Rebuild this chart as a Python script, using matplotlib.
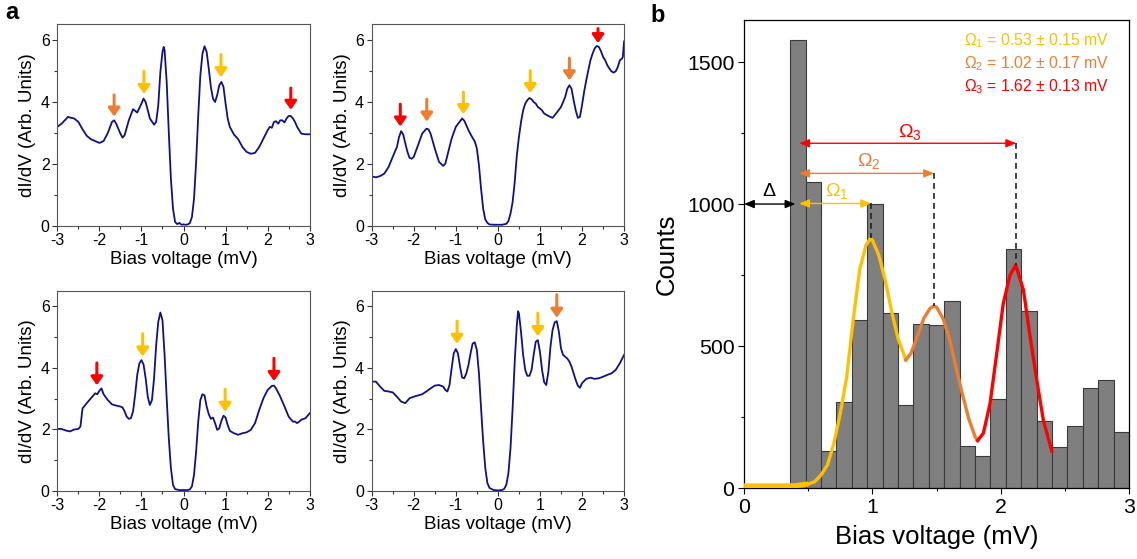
import matplotlib
matplotlib.use('Agg')
import matplotlib.pyplot as plt
from matplotlib.ticker import MultipleLocator

plt.rcParams['font.family'] = ['Liberation Sans', 'DejaVu Sans']
plt.rcParams['mathtext.fontset'] = 'custom'
plt.rcParams['mathtext.rm'] = 'Liberation Sans'
plt.rcParams['mathtext.it'] = 'Liberation Sans:italic'
plt.rcParams['mathtext.default'] = 'regular'

# ---- dI/dV spectra (bias in mV, conductance in arb. units) ----
bias_1 = [-3.0, -2.9, -2.8, -2.75, -2.7, -2.6, -2.5, -2.4, -2.3, -2.2, -2.1, -2.0, -1.9, -1.8,
          -1.7, -1.65, -1.6, -1.5, -1.45, -1.4, -1.3, -1.2, -1.1, -1.0, -0.95, -0.9, -0.8, -0.7,
          -0.65, -0.6, -0.55, -0.5, -0.47, -0.45, -0.4, -0.35, -0.3, -0.25, -0.2, -0.15, -0.1,
          -0.05, 0.0, 0.05, 0.1, 0.15, 0.2, 0.25, 0.3, 0.35, 0.4, 0.45, 0.5, 0.55, 0.6, 0.65, 0.7,
          0.75, 0.8, 0.85, 0.9, 0.95, 1.0, 1.05, 1.1, 1.2, 1.3, 1.4, 1.5, 1.6, 1.7, 1.8, 1.9, 2.0,
          2.05, 2.1, 2.15, 2.2, 2.25, 2.3, 2.35, 2.4, 2.45, 2.5, 2.55, 2.6, 2.65, 2.7, 2.75, 2.8,
          2.9, 3.0]
didv_1 = [3.19, 3.29, 3.43, 3.51, 3.49, 3.46, 3.35, 3.11, 2.90, 2.79, 2.73, 2.67, 2.73, 2.99,
          3.35, 3.40, 3.29, 2.97, 2.84, 2.92, 3.40, 3.76, 3.65, 3.94, 4.10, 3.99, 3.46, 3.26,
          3.35, 3.89, 4.96, 5.61, 5.77, 5.66, 4.64, 3.02, 1.52, 0.55, 0.12, 0.05, 0.09,
          0.03, 0.04, 0.03, 0.04, 0.08, 0.28, 0.87, 2.06, 3.56, 4.85, 5.55, 5.79, 5.61, 5.07, 4.48, 4.10,
          3.99, 4.21, 4.53, 4.64, 4.48, 3.94, 3.46, 3.19, 2.94, 2.79, 2.54, 2.38, 2.32, 2.35, 2.54, 2.81, 3.08,
          3.19, 3.16, 3.35, 3.37, 3.29, 3.40, 3.40, 3.33, 3.46, 3.54, 3.54, 3.46, 3.35, 3.19, 3.08, 2.97,
          2.95, 2.95]

bias_2 = [-3.0, -2.9, -2.8, -2.7, -2.6, -2.5, -2.4, -2.35, -2.3, -2.25, -2.2, -2.15, -2.1, -2.05,
          -2.0, -1.9, -1.8, -1.7, -1.65, -1.6, -1.5, -1.4, -1.3, -1.25, -1.2, -1.1, -1.0, -0.9,
          -0.85, -0.8, -0.75, -0.7, -0.6, -0.55, -0.5, -0.45, -0.4, -0.35, -0.3, -0.25, -0.2,
          -0.1, 0.0, 0.1, 0.2, 0.25, 0.3, 0.35, 0.4, 0.45, 0.5, 0.55, 0.6, 0.65, 0.7, 0.75, 0.8,
          0.85, 0.9, 0.95, 1.0, 1.05, 1.1, 1.2, 1.3, 1.4, 1.5, 1.55, 1.6, 1.65, 1.7, 1.75, 1.8,
          1.85, 1.9, 1.95, 2.0, 2.05, 2.1, 2.15, 2.2, 2.25, 2.3, 2.35, 2.4, 2.45, 2.5, 2.55, 2.6,
          2.65, 2.7, 2.75, 2.8, 2.85, 2.9, 2.95, 2.97, 3.0]
didv_2 = [1.59, 1.56, 1.60, 1.68, 1.89, 2.22, 2.54, 2.86, 3.05, 2.94, 2.65, 2.38, 2.19, 2.16,
          2.22, 2.59, 2.97, 3.13, 3.11, 2.97, 2.49, 2.06, 1.93, 2.00, 2.27, 2.81, 3.19, 3.37,
          3.46, 3.39, 3.24, 3.08, 2.83, 2.72, 2.49, 1.95, 1.19, 0.55, 0.20, 0.09, 0.04,
          0.03, 0.03, 0.03, 0.06, 0.15, 0.39, 0.76, 1.41, 2.27, 2.86, 3.35, 3.72, 3.94, 4.05, 4.12, 4.08,
          3.99, 3.94, 3.83, 3.78, 3.72, 3.62, 3.54, 3.48, 3.65, 3.83, 3.99, 4.16, 4.42, 4.53, 4.42, 4.05,
          3.72, 3.48, 3.51, 3.89, 4.32, 4.69, 5.02, 5.34, 5.55, 5.72, 5.80, 5.77, 5.63, 5.45, 5.34, 5.18,
          5.07, 4.98, 4.94, 4.98, 5.12, 5.34, 5.39, 5.45, 5.95]

bias_3 = [-3.0, -2.9, -2.8, -2.7, -2.6, -2.5, -2.45, -2.4, -2.3, -2.2, -2.1, -2.05, -2.0, -1.95,
          -1.9, -1.8, -1.7, -1.6, -1.5, -1.45, -1.4, -1.35, -1.3, -1.25, -1.2, -1.15, -1.1, -1.05,
          -1.0, -0.95, -0.9, -0.85, -0.8, -0.75, -0.7, -0.65, -0.6, -0.55, -0.5, -0.45, -0.4,
          -0.35, -0.3, -0.25, -0.2, -0.1, 0.0, 0.1, 0.15, 0.2, 0.25, 0.3, 0.35, 0.4, 0.45, 0.5,
          0.55, 0.6, 0.65, 0.7, 0.75, 0.8, 0.85, 0.9, 0.95, 1.0, 1.05, 1.1, 1.2, 1.3, 1.4, 1.5,
          1.6, 1.7, 1.8, 1.9, 2.0, 2.1, 2.15, 2.2, 2.3, 2.4, 2.5, 2.6, 2.65, 2.7, 2.75, 2.8, 2.9, 3.0]
didv_3 = [2.01, 2.01, 1.96, 1.93, 1.99, 2.01, 2.09, 2.68, 2.85, 3.01, 3.17, 3.14, 3.25, 3.33,
          3.14, 2.95, 2.81, 2.77, 2.74, 2.71, 2.58, 2.41, 2.34, 2.36, 2.58, 3.12, 3.77, 4.14,
          4.25, 4.11, 3.66, 3.06, 2.79, 2.95, 3.66, 4.74, 5.50, 5.80, 5.55, 4.42, 3.01,
          1.71, 0.74, 0.19, 0.05, 0.02, 0.02, 0.02, 0.04, 0.14, 0.52, 1.28, 2.25, 2.95, 3.14, 3.10,
          2.74, 2.49, 2.34, 2.38, 2.20, 1.98, 2.03, 2.27, 2.44, 2.38, 2.14, 1.95, 1.87, 1.82, 1.87, 1.90,
          1.98, 2.20, 2.63, 3.01, 3.28, 3.41, 3.42, 3.33, 3.06, 2.74, 2.41, 2.25, 2.25, 2.20, 2.25, 2.31, 2.36, 2.52]

bias_4 = [-3.0, -2.9, -2.8, -2.7, -2.6, -2.5, -2.4, -2.3, -2.2, -2.1, -2.0, -1.9, -1.8, -1.7,
          -1.6, -1.5, -1.4, -1.3, -1.25, -1.2, -1.15, -1.1, -1.05, -1.0, -0.95, -0.9, -0.85, -0.8,
          -0.75, -0.7, -0.65, -0.6, -0.55, -0.5, -0.45, -0.4, -0.35, -0.3, -0.25, -0.2, -0.1,
          0.0, 0.1, 0.15, 0.2, 0.25, 0.3, 0.35, 0.4, 0.45, 0.48, 0.5, 0.55, 0.6, 0.65, 0.7, 0.75,
          0.8, 0.85, 0.9, 0.95, 1.0, 1.05, 1.1, 1.15, 1.2, 1.25, 1.3, 1.35, 1.4, 1.45, 1.5, 1.55,
          1.6, 1.65, 1.7, 1.75, 1.8, 1.85, 1.9, 1.95, 2.0, 2.1, 2.2, 2.3, 2.4, 2.5, 2.6, 2.7, 2.8,
          2.9, 3.0]
didv_4 = [3.55, 3.55, 3.39, 3.25, 3.23, 3.20, 3.06, 2.90, 2.85, 3.01, 3.06, 3.10, 3.14, 3.23,
          3.33, 3.42, 3.44, 3.39, 3.28, 3.23, 3.44, 3.98, 4.47, 4.61, 4.47, 4.04, 3.68, 3.66,
          3.82, 4.09, 4.47, 4.79, 4.83, 4.58, 3.82, 2.68, 1.60, 0.74, 0.25, 0.09, 0.02,
          0.01, 0.02, 0.06, 0.19, 0.57, 1.39, 2.68, 4.20, 5.39, 5.84, 5.77, 5.17, 4.42, 3.93, 3.74, 3.74,
          3.93, 4.42, 4.85, 4.90, 4.52, 3.93, 3.53, 3.44, 3.87, 4.69, 5.23, 5.48, 5.52, 5.17, 4.63, 4.42,
          4.36, 4.30, 4.20, 4.04, 3.82, 3.60, 3.42, 3.35, 3.50, 3.64, 3.68, 3.64, 3.66, 3.71, 3.77, 3.82, 3.93,
          4.15, 4.42]

# peak markers per spectrum: (bias, tip height, tail height, colour)
YEL, ORA, RED = '#FFC000', '#ED7D31', '#FF0000'
marks_1 = [(-1.65, 3.52, 4.22, ORA), (-0.94, 4.25, 4.98, YEL), (0.89, 4.79, 5.52, YEL), (2.55, 3.74, 4.44, RED)]
marks_2 = [(-2.32, 3.20, 3.92, RED), (-1.69, 3.36, 4.08, ORA), (-0.82, 3.60, 4.31, YEL),
           (0.77, 4.28, 5.00, YEL), (1.70, 4.69, 5.41, ORA), (2.38, 5.89, 6.36, RED)]
marks_3 = [(-2.06, 3.43, 4.16, RED), (-0.97, 4.37, 5.11, YEL), (0.99, 2.57, 3.30, YEL), (2.15, 3.57, 4.31, RED)]
marks_4 = [(-0.97, 4.78, 5.52, YEL), (0.95, 5.03, 5.78, YEL), (1.40, 5.63, 6.38, ORA)]

# ---- histogram of peak energies ----
bin_edges = [0.36, 0.48, 0.60, 0.72, 0.84, 0.96, 1.08, 1.20, 1.32, 1.44, 1.56, 1.68, 1.80,
             1.92, 2.04, 2.16, 2.28, 2.40, 2.52, 2.64, 2.76, 2.88, 3.00]
counts = [1578, 1076, 129, 303, 592, 1000, 615, 291, 577, 573, 657, 149, 112, 312, 840, 622,
          235, 143, 218, 352, 380, 196]

# multi-peak fit, split into the three modes
fit_bias_1 = [0.0, 0.1, 0.2, 0.3, 0.4, 0.5, 0.55, 0.6, 0.65, 0.7, 0.75, 0.8, 0.85, 0.9, 0.95,
              0.985, 1.0, 1.05, 1.1, 1.15, 1.2, 1.26]
fit_count_1 = [7, 7, 7, 7, 8, 14, 22, 46, 81, 157, 263, 392, 590, 767, 855, 879, 873, 820, 732,
               621, 527, 451]
fit_bias_2 = [1.26, 1.3, 1.35, 1.4, 1.45, 1.48, 1.5, 1.55, 1.6, 1.65, 1.7, 1.75, 1.8, 1.82]
fit_count_2 = [451, 474, 533, 597, 633, 641, 637, 597, 527, 427, 333, 245, 181, 167]
fit_bias_3 = [1.82, 1.865, 1.917, 1.969, 2.02, 2.073, 2.117, 2.177, 2.229, 2.281, 2.332, 2.398]
fit_count_3 = [167, 193, 298, 474, 650, 750, 785, 697, 533, 380, 239, 130]

gap = 0.40
mode_left = 0.43
mode_right = [0.99, 1.48, 2.12]
mode_arrow_y = [1002, 1108, 1214]
mode_peak = [880, 641, 785]
mode_text = ['$\\Omega_1$ = 0.53 ± 0.15 mV', '$\\Omega_2$ = 1.02 ± 0.17 mV', '$\\Omega_3$ = 1.62 ± 0.13 mV']
mode_colors = [YEL, ORA, RED]

fig = plt.figure(figsize=(11.37, 5.59), dpi=100)

spec_axes = [
    fig.add_axes([0.0504, 0.5963, 0.222, 0.3603]),
    fig.add_axes([0.3269, 0.5963, 0.222, 0.3603]),
    fig.add_axes([0.0504, 0.1222, 0.222, 0.3572]),
    fig.add_axes([0.3269, 0.1222, 0.222, 0.3572]),
]
spectra = [(bias_1, didv_1, marks_1), (bias_2, didv_2, marks_2),
           (bias_3, didv_3, marks_3), (bias_4, didv_4, marks_4)]

for ax, (bx, gy, marks) in zip(spec_axes, spectra):
    ax.plot(bx, gy, color='#10108a', lw=1.3)
    for xv, tip, tail, c in marks:
        ax.annotate('', xy=(xv, tip), xytext=(xv, tail),
                    arrowprops=dict(arrowstyle='-|>,head_width=0.35,head_length=0.5',
                                    color=c, lw=2.2, shrinkA=0, shrinkB=0))
    ax.set_xlim(-3, 3)
    ax.set_ylim(0, 6.5)
    ax.set_xticks([-3, -2, -1, 0, 1, 2, 3])
    ax.set_xticklabels(['-3', '-2', '-1', '0', '1', '2', '3'])
    ax.set_yticks([0, 2, 4, 6])
    ax.xaxis.set_minor_locator(MultipleLocator(0.5))
    ax.yaxis.set_minor_locator(MultipleLocator(1))
    ax.tick_params(which='major', length=3.5, width=0.8, labelsize=11.5, pad=2, color='#333333')
    ax.tick_params(which='minor', length=2, width=0.8, color='#333333')
    for s in ax.spines.values():
        s.set_color('#555555')
        s.set_linewidth(0.8)
    ax.set_xlabel('Bias voltage (mV)', fontsize=13.5, labelpad=2)
    ax.set_ylabel('dI/dV (Arb. Units)', fontsize=13.5, labelpad=3)

# histogram panel
axh = fig.add_axes([0.6544, 0.127, 0.3386, 0.8372])
widths = [bin_edges[k + 1] - bin_edges[k] for k in range(len(counts))]
axh.bar(bin_edges[:-1], counts, width=widths, align='edge', color='#7f7f7f',
        edgecolor='#3a3a3a', linewidth=0.8, zorder=2)

axh.plot(fit_bias_1[:6], fit_count_1[:6], color=YEL, lw=3.8, solid_capstyle='butt', zorder=3)
axh.plot(fit_bias_1[5:], fit_count_1[5:], color=YEL, lw=2.4, zorder=3)
axh.plot(fit_bias_2, fit_count_2, color=ORA, lw=2.4, zorder=3)
axh.plot(fit_bias_3, fit_count_3, color=RED, lw=2.4, zorder=3)

# gap and mode arrows
axh.annotate('', xy=(0.0, 1000), xytext=(gap, 1000),
             arrowprops=dict(arrowstyle='<|-|>,head_width=0.25,head_length=0.6',
                             color='black', lw=1.0, shrinkA=0, shrinkB=0), zorder=5)
axh.text(0.195, 1045, 'Δ', fontsize=14, ha='center', va='center')
label_pos = [(0.72, 1045), (0.975, 1152), (1.29, 1255)]
for xr, ya, yp, c, (lx, ly), k in zip(mode_right, mode_arrow_y, mode_peak, mode_colors,
                                      label_pos, range(3)):
    axh.annotate('', xy=(mode_left, ya), xytext=(xr, ya),
                 arrowprops=dict(arrowstyle='<|-|>,head_width=0.25,head_length=0.6',
                                 color=c, lw=1.0, shrinkA=0, shrinkB=0), zorder=5)
    axh.plot([xr, xr], [ya, yp], color='#222222', lw=1.2, ls=(0, (3.5, 2.5)), zorder=4)
    axh.text(lx, ly, '$\\Omega_%d$' % (k + 1), color=c, fontsize=14, ha='center', va='center')

for t, c, yv in zip(mode_text, mode_colors, [1577, 1496, 1412]):
    axh.text(2.845, yv, t, color=c, fontsize=11.3, ha='right', va='center')

axh.set_xlim(0, 3)
axh.set_ylim(0, 1648)
axh.set_xticks([0, 1, 2, 3])
axh.set_yticks([0, 500, 1000, 1500])
axh.xaxis.set_minor_locator(MultipleLocator(0.5))
axh.yaxis.set_minor_locator(MultipleLocator(250))
axh.tick_params(which='major', length=4, width=0.8, labelsize=15.3, pad=3)
axh.tick_params(which='minor', length=2.5, width=0.8)
for s in axh.spines.values():
    s.set_linewidth(0.9)
axh.set_xlabel('Bias voltage (mV)', fontsize=18.5, labelpad=6)
axh.set_ylabel('Counts', fontsize=18.5, labelpad=6)

fig.text(0.0105, 0.977, 'a', fontsize=17, fontweight='bold', ha='center', va='center')
fig.text(0.5787, 0.972, 'b', fontsize=17, fontweight='bold', ha='center', va='center')

fig.savefig('out.png', dpi=100)
